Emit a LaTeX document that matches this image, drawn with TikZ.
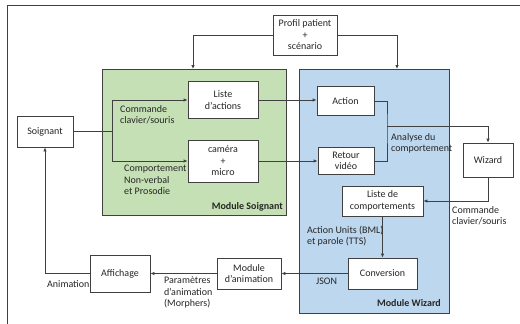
\documentclass[tikz,border=0pt]{standalone}
\usepackage{fontspec}
\setmainfont{Carlito}
\usetikzlibrary{arrows.meta}
\definecolor{lgreen}{HTML}{C5E0B4}
\definecolor{lblue}{HTML}{BDD7EE}
\definecolor{lncol}{HTML}{404040}
\definecolor{txcol}{HTML}{262626}
\begin{document}
\begin{tikzpicture}[x=1pt,y=-1pt,
  every node/.style={font=\fontsize{10}{11.5}\selectfont, text=txcol},
  box/.style={draw=lncol, line width=0.8pt, fill=white, align=center, inner sep=1pt},
  module/.style={draw=lncol, line width=0.8pt, inner sep=0pt},
  conn/.style={draw=lncol, line width=0.8pt},
  arr/.style={conn, -{Latex[length=4pt,width=3.5pt]}},
  lbl/.style={anchor=west, align=left, inner sep=0pt},
  mlbl/.style={anchor=base east, inner sep=0pt, font=\fontsize{10}{11.5}\selectfont\bfseries}]
\useasboundingbox (0,0) rectangle (520,324);
\fill[white] (0,0) rectangle (520,324);
% frame (partial)
\coordinate (ftl) at (7,5);
\coordinate (ftr) at (520,5);
\coordinate (fbl) at (7,324);
\draw[lncol, line width=1pt] (ftr) -- (ftl) -- (fbl);
% modules
\node[module, fill=lgreen, minimum width=184pt, minimum height=146pt] (green) at (194,142) {};
\node[module, fill=lblue, minimum width=150pt, minimum height=244pt] (blue) at (374,191) {};
% boxes
\node[box, minimum width=64pt, minimum height=40pt] (profil) at (305,35) {Profil patient\\+\\scénario};
\node[box, minimum width=70pt, minimum height=37pt] (liste) at (223,100) {Liste\\d’actions};
\node[box, minimum width=70pt, minimum height=42pt] (camera) at (223,161) {caméra\\+\\micro};
\node[box, minimum width=56pt, minimum height=31pt] (soignant) at (45,131.5) {Soignant};
\node[box, minimum width=57pt, minimum height=29pt] (action) at (345.5,101) {Action};
\node[box, minimum width=56pt, minimum height=27pt] (retour) at (346,161) {Retour\\vidéo};
\node[box, minimum width=50pt, minimum height=34pt] (wizard) at (488,160) {Wizard};
\node[box, minimum width=81pt, minimum height=30pt] (listecomp) at (382.5,201) {Liste de\\comportements};
\node[box, minimum width=69pt, minimum height=31pt] (conversion) at (382.5,273.5) {Conversion};
\node[box, minimum width=64pt, minimum height=31pt] (modanim) at (249,273.5) {Module\\d’animation};
\node[box, minimum width=60pt, minimum height=37pt] (affichage) at (120,273.5) {Affichage};
% module labels
\node[mlbl] (lsoi) at (283,209.5) {Module Soignant};
\node[mlbl] (lwiz) at (441,306.5) {Module Wizard};
% coordinates
\coordinate (g1) at (193,69);
\coordinate (b1) at (397,69);
\coordinate (split) at (112,131.5);
\coordinate (ab) at (387,126);
% connectors
\draw[arr] (profil.west) -| (g1);
\draw[arr] (profil.east) -| (b1);
\draw[conn] (soignant.east) -- (split);
\draw[arr] (split) |- (liste.west);
\draw[arr] (split) |- (camera.west);
\draw[arr] (liste.east) -- (liste.east -| action.west);
\draw[arr] (camera.east) -- (camera.east -| retour.west);
\draw[conn] (action.east) -| (ab) |- (retour.east);
\draw[arr] (ab) -| (wizard.north);
\draw[arr] (wizard.south) |- (listecomp.east);
\draw[arr] (listecomp.south) -- (conversion.north);
\draw[arr] (conversion.west) -- (modanim.east);
\draw[arr] (modanim.west) -- (affichage.east);
\draw[arr] (affichage.west) -| (soignant.south);
% labels
\node[lbl] (t1) at (120,114.5) {Commande\\clavier/souris};
\node[lbl] (t2) at (124,180) {Comportement\\Non-verbal\\et Prosodie};
\node[lbl] (t3) at (391,143.5) {Analyse du\\comportement};
\node[lbl] (t4) at (452,215.5) {Commande\\clavier/souris};
\node[lbl] (t5) at (307,236) {Action Units (BML)\\et parole (TTS)};
\node[lbl] (t6) at (316,281) {JSON};
\node[lbl] (t7) at (164,292.5) {Paramètres\\d’animation\\(Morphers)};
\node[lbl] (t8) at (47,284) {Animation};
\end{tikzpicture}
\end{document}
